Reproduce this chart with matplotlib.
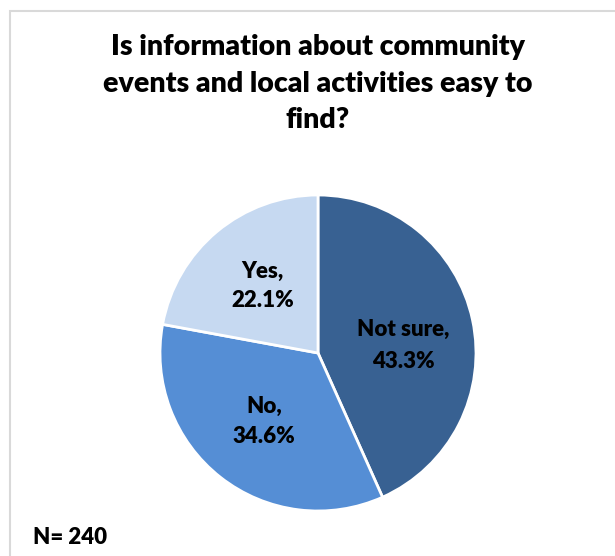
import matplotlib.pyplot as plt
from matplotlib.patches import Rectangle

# Datos
categories = ["Not sure", "No", "Yes"]
percentages = [43.3, 34.6, 22.1]
colors = ["#386192", "#558ED5", "#C6D9F1"]
title = "Is information about community\nevents and local activities easy to\nfind?"
n_text = "N= 240"

plt.rcParams["font.family"] = ["Lato", "DejaVu Sans"]

W, H = 615, 556
fig = plt.figure(figsize=(W / 100, H / 100), dpi=100)

# Marco gris alrededor del gráfico
fig.patches.append(Rectangle((10 / W, -0.1), 1.2, 1 - 11 / H + 0.1,
                             transform=fig.transFigure, fill=False,
                             edgecolor="#D9D9D9", linewidth=1.5))

# Eje del pastel: centro (318, 353), radio 158 px
cx, cy, r = 318, 353, 158
ax = fig.add_axes([(cx - r) / W, (H - cy - r) / H, 2 * r / W, 2 * r / H])

labels = [f"{c},\n{p}%" for c, p in zip(categories, percentages)]
wedges, texts = ax.pie(percentages, colors=colors, startangle=90, counterclock=False,
                       labels=labels, labeldistance=0.55,
                       wedgeprops=dict(edgecolor="white", linewidth=2),
                       textprops=dict(fontsize=16, fontweight="heavy", color="black",
                                      ha="center", va="center", linespacing=1.5))
# Bajar un poco la etiqueta de "Not sure" como en el original
texts[0].set_y(texts[0].get_position()[1] - 0.07)
texts[0].set_linespacing(1.65)

ax.set_xlim(-1, 1)
ax.set_ylim(-1, 1)
ax.set_aspect("equal")

fig.text(318 / W, 1 - 84 / H, title, ha="center", va="center", fontsize=20.5,
         fontweight="heavy", linespacing=1.5)
fig.text(33 / W, 1 - 537 / H, n_text, ha="left", va="center", fontsize=16,
         fontweight="heavy")

plt.savefig("out.png", dpi=100)
